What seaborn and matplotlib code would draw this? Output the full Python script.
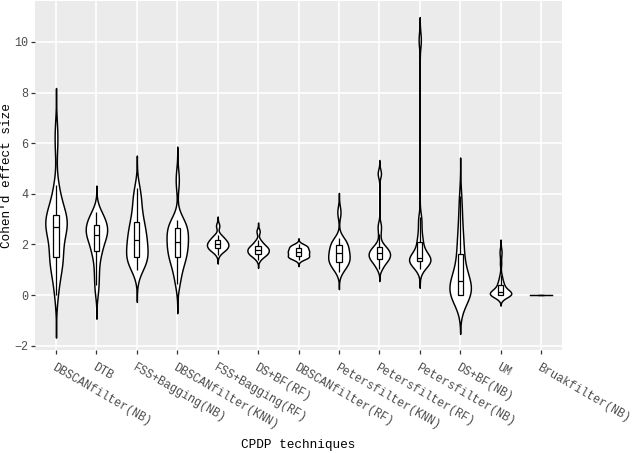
import numpy as np
import pandas as pd
import matplotlib
matplotlib.use("Agg")
import matplotlib.pyplot as plt
import seaborn as sns

# Cohen's d per CPDP technique
techniques = ["DBSCANfilter(NB)", "DTB", "FSS+Bagging(NB)", "DBSCANfilter(KNN)",
              "FSS+Bagging(RF)", "DS+BF(RF)", "DBSCANfilter(RF)", "Petersfilter(KNN)",
              "Petersfilter(RF)", "Petersfilter(NB)", "DS+BF(NB)", "UM", "Bruakfilter(NB)"]

dbscan_nb = [0.0, 0.45, 0.8, 1.05, 1.25, 1.4, 1.48, 1.5, 1.55, 1.85, 2.15, 2.4, 2.55, 2.62, 2.68,
             2.72, 2.78, 2.85, 2.92, 3.0, 3.05, 3.1, 3.18, 3.35, 3.55, 3.8, 4.05, 4.34, 5.9, 6.5]
dtb = [0.1, 0.39, 0.7, 0.95, 1.2, 1.5, 1.68, 1.74, 1.78, 1.95, 2.1, 2.2, 2.28, 2.33, 2.36,
       2.38, 2.45, 2.52, 2.58, 2.63, 2.68, 2.72, 2.78, 2.85, 2.92, 3.0, 3.08, 3.15, 3.22, 3.29]
fss_bag_nb = [0.99, 1.1, 1.2, 1.3, 1.38, 1.44, 1.48, 1.5, 1.55, 1.65, 1.78, 1.9, 2.0, 2.08, 2.14,
              2.2, 2.28, 2.38, 2.5, 2.62, 2.72, 2.82, 2.9, 3.05, 3.25, 3.45, 3.65, 3.85, 4.05, 4.25]
dbscan_knn = [0.45, 0.65, 0.9, 1.1, 1.25, 1.38, 1.46, 1.51, 1.56, 1.65, 1.75, 1.85, 1.95, 2.02, 2.07,
              2.11, 2.18, 2.26, 2.35, 2.45, 2.55, 2.62, 2.68, 2.74, 2.8, 2.85, 2.9, 2.95, 4.4, 4.7]
fss_bag_rf = [1.59, 1.68, 1.74, 1.78, 1.8, 1.82, 1.83, 1.84, 1.87, 1.9, 1.93, 1.96, 1.98, 2.0, 2.01,
              2.02, 2.04, 2.06, 2.09, 2.12, 2.15, 2.17, 2.19, 2.22, 2.26, 2.31, 2.35, 2.38, 2.72, 2.76]
dsbf_rf = [1.39, 1.46, 1.52, 1.56, 1.59, 1.61, 1.62, 1.63, 1.65, 1.68, 1.71, 1.73, 1.75, 1.77, 1.78,
           1.8, 1.82, 1.84, 1.86, 1.88, 1.9, 1.93, 1.95, 1.98, 2.02, 2.07, 2.12, 2.18, 2.48, 2.55]
dbscan_rf = [1.39, 1.43, 1.46, 1.48, 1.5, 1.51, 1.52, 1.52, 1.54, 1.57, 1.6, 1.63, 1.66, 1.68, 1.69,
             1.7, 1.72, 1.74, 1.76, 1.78, 1.8, 1.83, 1.86, 1.88, 1.9, 1.92, 1.94, 1.96, 1.98, 2.0]
peters_knn = [0.92, 1.0, 1.08, 1.15, 1.22, 1.27, 1.3, 1.32, 1.34, 1.38, 1.43, 1.48, 1.53, 1.58, 1.63,
              1.67, 1.7, 1.74, 1.78, 1.84, 1.9, 1.96, 2.01, 2.06, 2.1, 2.14, 2.19, 2.25, 3.2, 3.35]
peters_rf = [1.03, 1.12, 1.2, 1.27, 1.33, 1.38, 1.41, 1.43, 1.45, 1.48, 1.52, 1.56, 1.6, 1.63, 1.64,
             1.66, 1.69, 1.72, 1.76, 1.8, 1.84, 1.88, 1.91, 1.97, 2.1, 2.4, 2.65, 2.8, 4.75, 4.86]
peters_nb = [1.05, 1.12, 1.18, 1.24, 1.28, 1.31, 1.33, 1.35, 1.36, 1.38, 1.4, 1.42, 1.44, 1.46, 1.47,
             1.49, 1.52, 1.58, 1.66, 1.78, 1.92, 2.05, 2.12, 2.25, 2.45, 2.7, 2.95, 3.1, 9.95, 10.22]
dsbf_nb = [0.0, 0.0, 0.0, 0.0, 0.0, 0.0, 0.0, 0.0, 0.05, 0.15, 0.25, 0.33, 0.4, 0.47, 0.53,
           0.6, 0.68, 0.78, 0.88, 1.0, 1.15, 1.5, 1.65, 1.85, 2.05, 2.3, 2.6, 2.95, 3.4, 3.9]
um = [0.0, 0.0, 0.0, 0.0, 0.0, 0.0, 0.0, 0.0, 0.01, 0.03, 0.05, 0.07, 0.09, 0.11, 0.12,
      0.13, 0.15, 0.18, 0.21, 0.25, 0.3, 0.37, 0.42, 0.48, 0.55, 0.65, 0.8, 1.25, 1.6, 1.78]
bruak_nb = [0.0] * 30

values = [dbscan_nb, dtb, fss_bag_nb, dbscan_knn, fss_bag_rf, dsbf_rf, dbscan_rf,
          peters_knn, peters_rf, peters_nb, dsbf_nb, um, bruak_nb]

df = pd.DataFrame({
    "technique": np.repeat(techniques, [len(v) for v in values]),
    "d": np.concatenate(values),
})


def nrd0(kde):
    # R's default bandwidth (bw.nrd0), as a factor of the sample sd
    x = kde.dataset[0]
    sd = x.std(ddof=1)
    q75, q25 = np.percentile(x, [75, 25])
    lo = min(sd, (q75 - q25) / 1.34)
    return 0.9 * lo * len(x) ** -0.2 / sd


plt.rcParams["font.family"] = "Liberation Mono"

fig, ax = plt.subplots(figsize=(6.4, 4.53), dpi=100)
fig.subplots_adjust(left=35 / 640, right=562 / 640, top=1 - 1 / 453, bottom=1 - 350 / 453)

sns.violinplot(data=df, x="technique", y="d", order=techniques, inner=None,
               density_norm="width", width=0.53, cut=3, bw_method=nrd0,
               color="white", linecolor="black", linewidth=1.05, ax=ax)
sns.boxplot(data=df, x="technique", y="d", order=techniques, width=0.13,
            showfliers=False, showcaps=False, color="white", linecolor="black",
            linewidth=0.9, ax=ax)

ax.set_facecolor("#EBEBEB")
ax.grid(True, color="white", linewidth=1.2)
ax.set_axisbelow(True)
for s in ax.spines.values():
    s.set_visible(False)

ax.set_xlim(-0.52, 12.52)
ax.set_ylim(-2.17, 11.62)
ax.set_yticks([-2, 0, 2, 4, 6, 8, 10])
ax.tick_params(axis="both", length=3, width=0.9, color="#333333", labelcolor="#4D4D4D",
               labelsize=8.5)
ax.tick_params(axis="x", pad=5)
ax.tick_params(axis="y", pad=2)
plt.setp(ax.get_xticklabels(), rotation=-30, ha="left", va="top", rotation_mode="anchor")

ax.set_xlabel("CPDP techniques", fontsize=9.2, color="black")
ax.set_ylabel("Cohen'd effect size", fontsize=9.2, color="black")
ax.xaxis.set_label_coords(0.5, -0.255)
ax.yaxis.set_label_coords(-0.041, 0.5)

plt.savefig("out.png", dpi=100)
